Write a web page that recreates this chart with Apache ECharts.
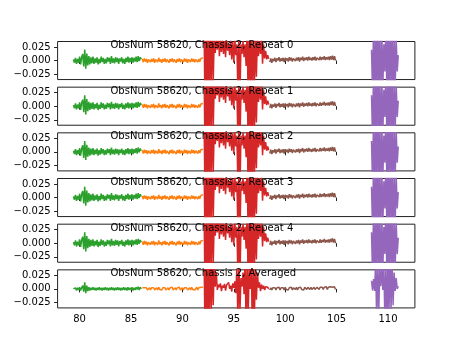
<!DOCTYPE html>
<html><head><meta charset="utf-8">
<script src="https://cdn.jsdelivr.net/npm/echarts@6/dist/echarts.min.js"></script>
<style>html,body{margin:0;padding:0;background:#fff}#c{width:461px;height:346px}</style>
</head><body><div id="c"></div>
<script>
const panelTitles = [
  'ObsNum 58620, Chassis 2, Repeat 0',
  'ObsNum 58620, Chassis 2, Repeat 1',
  'ObsNum 58620, Chassis 2, Repeat 2',
  'ObsNum 58620, Chassis 2, Repeat 3',
  'ObsNum 58620, Chassis 2, Repeat 4',
  'ObsNum 58620, Chassis 2, Averaged'
];
const xTickValues = [80, 85, 90, 95, 100, 105, 110];
const xTickLabels = ['80', '85', '90', '95', '100', '105', '110'];
const yTickValues = [-0.025, 0, 0.025];
const yTickLabels = ['\u22120.025', '0.000', '0.025'];

// frequency grids of the five segments
const xGreen = [79.4,79.5,79.6,79.7,79.8,79.9,80.0,80.1,80.2,80.3,80.4,80.5,80.6,80.7,80.8,80.9,81.0,81.1,81.2,81.3,81.4,81.5,81.6,81.7,81.8,81.9,82.0,82.1,82.2,82.3,82.4,82.5,82.6,82.7,82.8,82.9,83.0,83.1,83.2,83.3,83.4,83.5,83.6,83.7,83.8,83.9,84.0,84.1,84.2,84.3,84.4,84.5,84.6,84.7,84.8,84.9,85.0,85.1,85.2,85.3,85.4,85.5,85.6,85.7,85.8,85.9,86.0];
const xOrange = [86.1,86.2,86.3,86.4,86.5,86.6,86.7,86.8,86.9,87.0,87.1,87.2,87.3,87.4,87.5,87.6,87.7,87.8,87.9,88.0,88.1,88.2,88.3,88.4,88.5,88.6,88.7,88.8,88.9,89.0,89.1,89.2,89.3,89.4,89.5,89.6,89.7,89.8,89.9,90.0,90.1,90.2,90.3,90.4,90.5,90.6,90.7,90.8,90.9,91.0,91.1,91.2,91.3,91.4,91.5,91.6,91.7,91.8,91.9,92.0];
const xRed = [92.1,92.2,92.3,92.4,92.5,92.6,92.7,92.8,92.9,93.0,93.1,93.2,93.3,93.4,93.5,93.6,93.7,93.8,93.9,94.0,94.1,94.2,94.3,94.4,94.5,94.6,94.7,94.8,94.9,95.0,95.1,95.2,95.3,95.4,95.5,95.6,95.7,95.8,95.9,96.0,96.1,96.2,96.3,96.4,96.5,96.6,96.7,96.8,96.9,97.0,97.1,97.2,97.3,97.4,97.5,97.6,97.7,97.8,97.9,98.0,98.1,98.2,98.3,98.4];
const xBrown = [98.5,98.6,98.7,98.8,98.9,99.0,99.1,99.2,99.3,99.4,99.5,99.6,99.7,99.8,99.9,100.0,100.1,100.2,100.3,100.4,100.5,100.6,100.7,100.8,100.9,101.0,101.1,101.2,101.3,101.4,101.5,101.6,101.7,101.8,101.9,102.0,102.1,102.2,102.3,102.4,102.5,102.6,102.7,102.8,102.9,103.0,103.1,103.2,103.3,103.4,103.5,103.6,103.7,103.8,103.9,104.0,104.1,104.2,104.3,104.4,104.5,104.6,104.7,104.8,104.9];
const xPurple = [108.4,108.5,108.6,108.7,108.8,108.9,109.0,109.1,109.2,109.3,109.4,109.5,109.6,109.7,109.8,109.9,110.0,110.1,110.2,110.3,110.4,110.5,110.6,110.7,110.8,110.9,111.0];

// single repeats
const yGreenRep = [0.002,-0.004,0.005,-0.006,0.003,-0.004,0.007,-0.007,0.006,0.012,
  -0.011,0.020,-0.015,0.013,-0.009,0.008,-0.007,0.006,-0.005,0.007,
  -0.006,0.004,-0.004,0.006,-0.007,0.003,-0.005,0.007,-0.003,0.005,
  -0.006,0.003,-0.005,0.006,-0.002,0.005,-0.006,0.008,-0.004,0.004,
  -0.005,0.006,-0.003,0.005,-0.006,0.004,-0.002,0.006,-0.005,0.003,
  -0.006,0.005,-0.003,0.007,-0.004,0.005,-0.003,0.006,-0.004,0.005,
  -0.002,0.007,-0.003,0.008,-0.001,0.006,0.002];
const yOrangeRep = [0.003,-0.003,0.004,-0.002,0.003,-0.004,0.002,0.004,-0.003,0.003,
  -0.002,0.004,-0.004,0.002,0.003,-0.003,0.005,-0.002,0.002,-0.004,
  0.003,-0.002,0.004,-0.003,0.002,0.003,-0.004,0.003,-0.002,0.004,
  -0.003,0.002,0.003,-0.004,0.003,-0.002,0.004,-0.003,0.002,0.003,
  -0.003,0.004,-0.002,0.003,-0.004,0.002,0.003,-0.003,0.004,-0.002,
  0.003,-0.003,0.002,0.004,-0.003,0.003,-0.002,0.004,0.002,0.005];
const yRedRep = [0.080,-0.090,0.070,-0.080,0.090,-0.070,0.080,-0.060,0.070,-0.040,
  0.045,0.014,0.040,0.020,0.050,0.008,0.038,0.016,0.042,0.012,
  0.036,0.006,0.044,0.018,0.030,0.010,0.040,0.002,0.034,-0.004,
  0.040,0.010,0.030,-0.060,0.050,-0.070,0.030,0.012,0.036,0.006,
  0.030,-0.010,0.060,-0.080,0.070,-0.060,0.050,-0.070,0.060,-0.050,
  0.040,-0.030,0.045,0.008,0.036,0.012,0.040,-0.006,0.030,0.004,
  0.018,0.002,0.010,0.003];
const yBrownRep = [-0.003,0.004,-0.004,0.003,-0.001,0.005,-0.003,0.004,0.000,0.006,
  -0.002,0.004,-0.001,0.005,-0.003,0.005,0.000,0.004,-0.002,0.006,
  0.000,0.005,-0.002,0.004,0.006,-0.001,0.005,0.000,0.006,-0.002,
  0.005,0.001,0.007,-0.001,0.005,0.001,0.006,0.000,0.007,0.001,
  0.005,0.000,0.006,0.001,0.007,0.000,0.005,0.006,0.001,0.007,
  0.001,0.006,0.002,0.008,0.001,0.006,0.002,0.007,0.001,0.008,
  0.002,0.009,0.001,0.008,0.000];
const yPurpleRep = [0.020,-0.060,0.070,-0.080,0.060,-0.070,0.080,-0.060,0.050,-0.070,
  0.060,-0.050,0.030,-0.020,0.070,-0.080,0.060,-0.070,0.080,-0.060,
  0.050,-0.070,0.060,-0.050,0.040,-0.020,0.010];

// averaged
const yGreenAvg = [0.000,-0.002,0.002,-0.003,0.002,-0.002,0.003,-0.003,0.002,0.006,
  -0.005,0.012,-0.008,0.006,-0.004,0.003,-0.003,0.002,-0.002,0.003,
  -0.002,0.002,-0.003,0.002,-0.002,0.003,-0.002,0.002,-0.003,0.002,
  -0.002,0.003,-0.002,0.002,-0.003,0.002,-0.002,0.003,-0.002,0.002,
  -0.003,0.002,-0.002,0.003,-0.002,0.002,-0.003,0.002,-0.002,0.003,
  -0.002,0.002,-0.003,0.003,-0.002,0.002,-0.002,0.003,-0.003,0.002,
  -0.002,0.003,-0.001,0.004,-0.002,0.003,0.000];
const yOrangeAvg = [0.002,-0.001,0.002,-0.001,0.002,-0.002,0.001,0.002,-0.002,0.002,
  -0.001,0.002,-0.002,0.001,0.002,-0.002,0.003,-0.001,0.002,-0.002,
  0.002,-0.001,0.002,-0.002,0.001,0.002,-0.002,0.002,-0.001,0.003,
  -0.002,0.001,0.002,-0.002,0.002,-0.001,0.003,-0.002,0.001,0.002,
  -0.002,0.002,-0.001,0.002,-0.002,0.001,0.002,-0.002,0.003,-0.001,
  0.002,-0.002,0.001,0.003,-0.002,0.002,-0.001,0.003,0.001,0.003];
const yRedAvg = [0.070,-0.080,0.060,-0.090,0.080,-0.060,0.070,-0.050,0.060,-0.030,
  0.050,0.004,0.030,-0.002,0.008,0.003,0.010,-0.004,0.006,0.002,
  0.009,-0.003,0.007,0.004,0.012,0.000,0.006,-0.005,0.010,0.002,
  0.014,-0.008,0.040,-0.060,0.050,-0.040,0.020,0.004,0.030,-0.010,
  0.050,-0.070,0.060,-0.050,0.040,0.000,0.060,-0.080,0.050,-0.060,
  0.040,-0.020,0.030,0.002,0.012,-0.004,0.008,0.000,0.006,-0.002,
  0.004,0.001,0.003,0.000];
const yBrownAvg = [-0.002,0.002,-0.002,0.002,-0.001,0.002,-0.002,0.002,-0.001,0.003,
  -0.002,0.002,-0.001,0.002,-0.002,0.003,-0.001,0.002,-0.002,0.002,
  -0.001,0.003,-0.002,0.002,0.002,-0.001,0.003,-0.002,0.002,-0.001,
  0.003,-0.001,0.002,-0.002,0.003,0.001,-0.001,0.003,0.001,-0.001,
  0.003,-0.001,0.002,0.003,-0.001,0.002,0.003,0.001,-0.001,0.003,
  0.001,0.003,-0.001,0.003,0.001,0.004,-0.001,0.003,0.001,0.004,
  0.001,0.003,0.000,0.004,-0.001];
const yPurpleAvg = [0.015,-0.003,0.018,-0.004,0.050,-0.060,0.060,-0.050,0.040,0.005,
  0.040,-0.002,0.045,-0.060,0.050,-0.070,0.060,-0.050,0.070,-0.040,
  0.050,-0.030,0.030,-0.004,0.020,0.000,0.005];

const segX = [xGreen, xOrange, xRed, xBrown, xPurple];
const segColors = ['#2ca02c', '#ff7f0e', '#d62728', '#8c564b', '#9467bd'];
const repSet = [yGreenRep, yOrangeRep, yRedRep, yBrownRep, yPurpleRep];
const avgSet = [yGreenAvg, yOrangeAvg, yRedAvg, yBrownAvg, yPurpleAvg];
const panelSets = [repSet, repSet, repSet, repSet, repSet, avgSet];

const FONT = '"DejaVu Sans", "Liberation Sans", sans-serif';
const LEFT = 57.6, RIGHT = 46.1, TOP0 = 41.5, PH = 38.06, STEP = 45.67;

const grids = [], xAxes = [], yAxes = [], series = [], texts = [];
panelSets.forEach((set, p) => {
  const top = TOP0 + p * STEP;
  grids.push({left: LEFT, right: RIGHT, top: top, height: PH, show: true,
    borderColor: '#222', borderWidth: 1, backgroundColor: 'transparent'});
  const last = p === panelSets.length - 1;
  xAxes.push({type: 'value', gridIndex: p, min: 77.86, max: 112.62,
    axisLine: {show: false}, splitLine: {show: false},
    axisTick: {show: true, customValues: xTickValues, length: 3.5, lineStyle: {color: '#222', width: 1}},
    axisLabel: {show: last, customValues: xTickValues, margin: 6, fontFamily: FONT, fontSize: 10, color: '#000',
      formatter: v => { const k = xTickValues.indexOf(v); return k >= 0 ? xTickLabels[k] : ''; }}});
  yAxes.push({type: 'value', gridIndex: p, min: -0.035, max: 0.035,
    axisLine: {show: false}, splitLine: {show: false},
    axisTick: {show: true, customValues: yTickValues, length: 3.5, lineStyle: {color: '#222', width: 1}},
    axisLabel: {show: true, customValues: yTickValues, margin: 7, fontFamily: FONT, fontSize: 10, color: '#000',
      formatter: v => { const k = yTickValues.findIndex(t => Math.abs(t - v) < 1e-9); return k >= 0 ? yTickLabels[k] : ''; }}});
  set.forEach((ys, s) => {
    series.push({type: 'line', xAxisIndex: p, yAxisIndex: p, showSymbol: false, symbol: 'none',
      clip: true, animation: false, silent: true, z: 3,
      lineStyle: {color: segColors[s], width: 1.5}, itemStyle: {color: segColors[s]},
      data: segX[s].map((x, i) => [x, ys[i]])});
  });
  texts.push({type: 'text', left: 110.5, top: top - 1, z: 100,
    style: {text: panelTitles[p], font: '10px ' + FONT, fill: '#000'}});
});

const chart = echarts.init(document.getElementById('c'), null, {renderer: 'canvas'});
chart.setOption({
  animation: false,
  backgroundColor: '#fff',
  grid: grids, xAxis: xAxes, yAxis: yAxes, series: series,
  graphic: {elements: texts}
});
</script></body></html>
